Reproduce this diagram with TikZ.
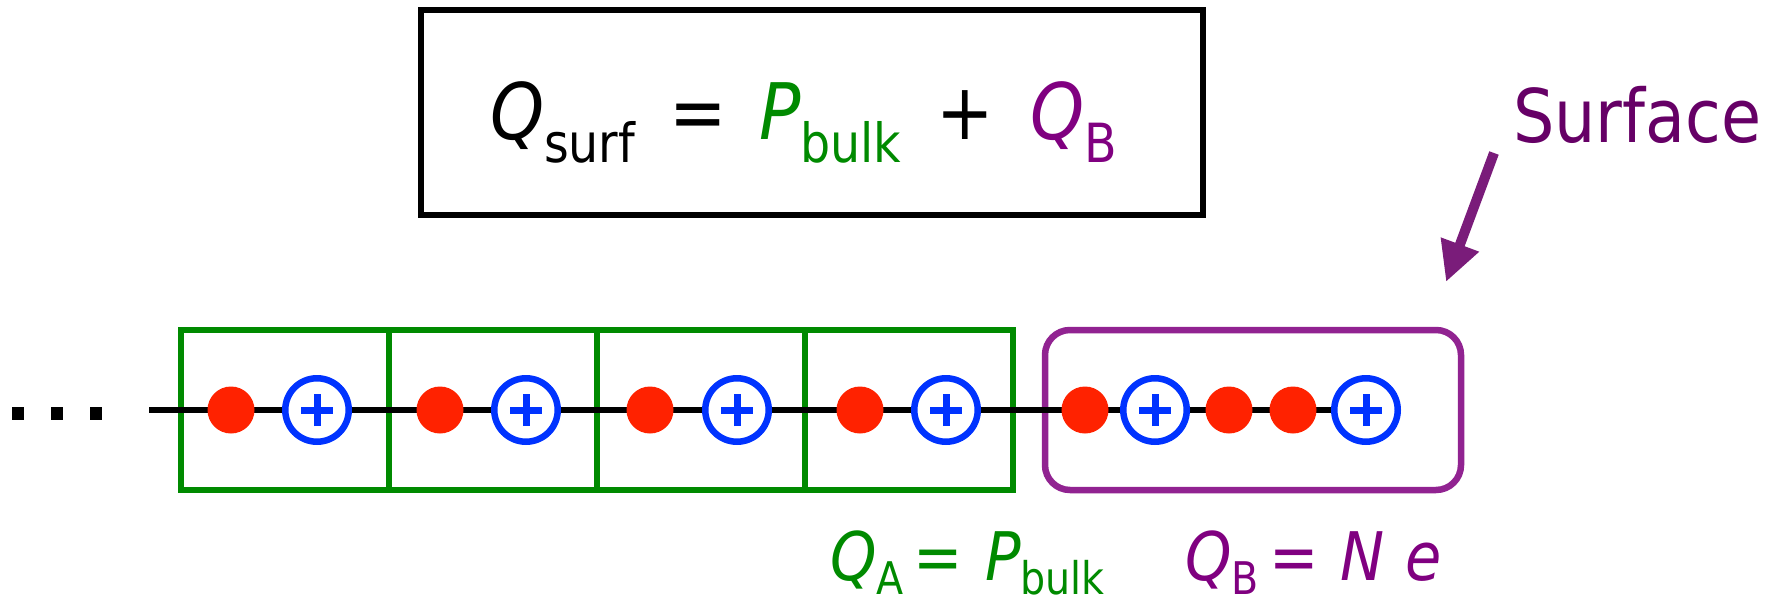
\documentclass[tikz,border=0pt]{standalone}
\usepackage{fontspec}
\setmainfont{DejaVu Sans}[FakeStretch=0.88]
\usetikzlibrary{arrows.meta}
\definecolor{cgreen}{RGB}{0,138,0}
\definecolor{cbox}{RGB}{145,35,145}
\definecolor{cpurple}{RGB}{128,0,128}
\definecolor{csurf}{RGB}{102,0,102}
\definecolor{carrow}{RGB}{122,28,122}
\definecolor{cred}{RGB}{255,34,0}
\definecolor{cblue}{RGB}{0,51,255}
\newcommand\bigtxt{\fontsize{78}{78}\selectfont}
\newcommand\bigsub[1]{\raisebox{-23pt}{\fontsize{54}{54}\selectfont #1}}
\newcommand\lowtxt{\fontsize{67}{67}\selectfont}
\newcommand\lowsub[1]{\raisebox{-14pt}[\height][0pt]{\fontsize{45}{45}\selectfont #1}}
\begin{document}
\begin{tikzpicture}[x=1pt,y=-1pt,
  electron/.style={circle,fill=cred,minimum size=47pt,inner sep=0pt},
  ion/.style={circle,draw=cblue,line width=6.5pt,fill=white,minimum size=63.5pt,inner sep=0pt},
  plusbar/.style={draw=cblue,line width=7pt},
  cell/.style={draw=cgreen,line width=6.5pt,minimum width=208pt,minimum height=160pt,inner sep=0pt},
  surfbox/.style={draw=cbox,line width=6.5pt,rounded corners=25pt,minimum width=416pt,minimum height=160pt,inner sep=0pt},
  formbox/.style={draw=black,line width=5.5pt,minimum width=782pt,minimum height=205pt,inner sep=0pt},
  dot/.style={fill=black,minimum width=12pt,minimum height=13pt,inner sep=0pt},
  txt/.style={inner sep=0pt,outer sep=0pt},
  chain/.style={draw=black,line width=6pt}]
\useasboundingbox (0,0) rectangle (1775,597);

% formula box
\node[formbox] (fbox) at (812,112.5) {};
\node[txt,anchor=base west] (qsurf) at (490,139) {\bigtxt\textit{Q}\bigsub{surf}};
\node[txt,anchor=base] (eq1) at (698,139) {\bigtxt =};
\node[txt,anchor=base west,text=cgreen] (pbulk) at (759,139) {\bigtxt\textit{P}\bigsub{bulk}};
\node[txt,anchor=base] (plus1) at (965,139) {\bigtxt +};
\node[txt,anchor=base west,text=cpurple] (qb) at (1030,139) {\bigtxt\textit{Q}\bigsub{B}};

% surface label and arrow
\node[txt,anchor=base west,text=csurf] (surf) at (1513,142) {\fontsize{74}{74}\selectfont Surface};
\coordinate (astart) at (1494,153);
\coordinate (atip) at (1446,282);
\draw[carrow,line width=10pt,-{Triangle[width=38pt,length=40pt]}] (astart) -- (atip);

% dots
\node[dot] (d1) at (18,413) {};
\node[dot] (d2) at (57,413) {};
\node[dot] (d3) at (96,413) {};

% cells and surface box
\node[cell] (c1) at (285,410) {};
\node[cell] (c2) at (493,410) {};
\node[cell] (c3) at (701,410) {};
\node[cell] (c4) at (909,410) {};
\node[surfbox] (sb) at (1253,410) {};

% chain line
\coordinate (lstart) at (149,410);
\coordinate (lend) at (1366,410);
\draw[chain] (lstart) -- (lend);

% particles
\node[electron] (e1) at (231,410) {};
\node[ion] (i1) at (317,410) {};
\node[electron] (e2) at (440,410) {};
\node[ion] (i2) at (526,410) {};
\node[electron] (e3) at (650,410) {};
\node[ion] (i3) at (737,410) {};
\node[electron] (e4) at (860,410) {};
\node[ion] (i4) at (946,410) {};
\node[electron] (e5) at (1085,410) {};
\node[ion] (i5) at (1155,410) {};
\node[electron] (e6) at (1229,410) {};
\node[electron] (e7) at (1293,410) {};
\node[ion] (i6) at (1366,410) {};
\foreach \n in {i1,i2,i3,i4,i5,i6}{
  \draw[plusbar] ([xshift=-16pt]\n.center) -- ([xshift=16pt]\n.center);
  \draw[plusbar] ([yshift=-16pt]\n.center) -- ([yshift=16pt]\n.center);
}

% bottom labels
\node[txt,anchor=base west,text=cgreen] (qa) at (830,580) {\lowtxt\textit{Q}\lowsub{A}};
\node[txt,anchor=base,text=cgreen] (eq2) at (938,580) {\lowtxt =};
\node[txt,anchor=base west,text=cgreen] (pb2) at (985,580) {\lowtxt\textit{P}\lowsub{bulk}};
\node[txt,anchor=base west,text=cpurple] (qb2) at (1185,580) {\lowtxt\textit{Q}\lowsub{B}};
\node[txt,anchor=base,text=cpurple] (eq3) at (1294,580) {\lowtxt =};
\node[txt,anchor=base west,text=cpurple] (nn) at (1340,580) {\lowtxt\textit{N}};
\node[txt,anchor=base west,text=cpurple] (ee) at (1405,580) {\lowtxt\textit{e}};
\end{tikzpicture}
\end{document}
